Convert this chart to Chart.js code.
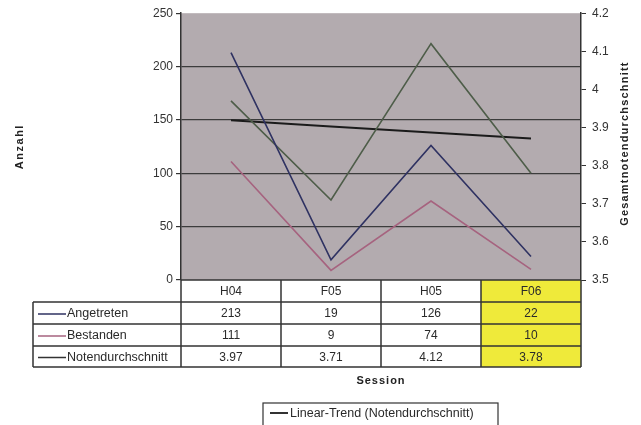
<!DOCTYPE html>
<html>
<head>
<meta charset="utf-8">
<script src="https://cdn.jsdelivr.net/npm/chart.js@4/dist/chart.umd.min.js"></script>
<style>
  html, body { margin: 0; padding: 0; background: #ffffff; }
  #wrap { width: 641px; height: 425px; position: relative; }
  canvas { display: block; }
</style>
</head>
<body>
<div id="wrap"><canvas id="c" width="641" height="425"></canvas></div>
<script>
// ---- data ----
const categories = ['H04', 'F05', 'H05', 'F06'];
const angetreten = [213, 19, 126, 22];
const bestanden = [111, 9, 74, 10];
const notendurchschnitt = [3.97, 3.71, 4.12, 3.78];
const trendNotendurchschnitt = [3.919, 3.903, 3.887, 3.871];
const highlightCategory = 'F06';

const leftTitle = 'Anzahl';
const rightTitle = 'Gesamtnotendurchschnitt';
const xTitle = 'Session';
const seriesLabels = ['Angetreten', 'Bestanden', 'Notendurchschnitt', 'Linear-Trend (Notendurchschnitt)'];

const FONT = '"Liberation Sans", Arial, sans-serif';
const colors = {
  angetreten: '#2f3262',
  bestanden: '#a6637f',
  noten: '#4e5d49',
  notenLegend: '#333333',
  trend: '#1b1b1b',
  plotBg: '#b3abaf',
  grid: '#3c3c3c',
  text: '#2a2a2a',
  highlight: '#efea3a'
};

const bgPlugin = {
  id: 'bg',
  beforeDraw(chart) {
    const {ctx, chartArea: a} = chart;
    ctx.save();
    ctx.fillStyle = colors.plotBg;
    ctx.fillRect(a.left, a.top, a.right - a.left, a.bottom - a.top);
    ctx.restore();
  }
};

const tablePlugin = {
  id: 'table',
  afterDraw(chart) {
    const {ctx, chartArea: a} = chart;
    const xs = chart.scales.x;
    const half = (xs.getPixelForValue(1) - xs.getPixelForValue(0)) / 2;
    const tableLeft = 33;
    const rowsY = [a.bottom, a.bottom + 22, a.bottom + 44, a.bottom + 66, a.bottom + 87];
    const rows = [
      {label: seriesLabels[0], color: colors.angetreten, vals: angetreten.map(String)},
      {label: seriesLabels[1], color: colors.bestanden, vals: bestanden.map(String)},
      {label: seriesLabels[2], color: colors.notenLegend, vals: notendurchschnitt.map(v => v.toFixed(2))}
    ];
    ctx.save();
    // highlight column
    categories.forEach((c, i) => {
      if (c === highlightCategory) {
        const cx = xs.getPixelForValue(i);
        ctx.fillStyle = colors.highlight;
        ctx.fillRect(cx - half, rowsY[0], half * 2, rowsY[4] - rowsY[0]);
      }
    });
    ctx.strokeStyle = '#333333';
    ctx.lineWidth = 1.5;
    // horizontal lines
    ctx.beginPath();
    ctx.moveTo(a.left, rowsY[0]); ctx.lineTo(a.right, rowsY[0]);
    for (let r = 1; r < rowsY.length; r++) {
      ctx.moveTo(tableLeft, rowsY[r]); ctx.lineTo(a.right, rowsY[r]);
    }
    // vertical lines
    ctx.moveTo(tableLeft, rowsY[1]); ctx.lineTo(tableLeft, rowsY[4]);
    for (let i = 0; i <= categories.length; i++) {
      const x = (i < categories.length ? xs.getPixelForValue(i) - half : xs.getPixelForValue(categories.length - 1) + half);
      ctx.moveTo(x, rowsY[0]); ctx.lineTo(x, rowsY[4]);
    }
    ctx.stroke();
    // text
    ctx.fillStyle = colors.text;
    ctx.font = '12px ' + FONT;
    ctx.textAlign = 'center';
    ctx.textBaseline = 'middle';
    categories.forEach((c, i) => {
      ctx.fillText(c, xs.getPixelForValue(i), (rowsY[0] + rowsY[1]) / 2 + 1);
    });
    rows.forEach((row, r) => {
      const cy = (rowsY[r + 1] + rowsY[r + 2]) / 2 + 1;
      row.vals.forEach((v, i) => {
        ctx.fillStyle = colors.text;
        ctx.textAlign = 'center';
        ctx.fillText(v, xs.getPixelForValue(i), cy);
      });
      ctx.strokeStyle = row.color;
      ctx.lineWidth = 1.5;
      ctx.beginPath();
      ctx.moveTo(38, cy); ctx.lineTo(66, cy);
      ctx.stroke();
      ctx.fillStyle = colors.text;
      ctx.textAlign = 'left';
      ctx.font = '12.5px ' + FONT;
      ctx.fillText(row.label, 67, cy);
      ctx.font = '12px ' + FONT;
    });
    // x title
    ctx.font = 'bold 11px ' + FONT;
    ctx.letterSpacing = '1px';
    ctx.textAlign = 'center';
    ctx.fillStyle = '#222';
    ctx.fillText(xTitle, (a.left + a.right) / 2, 381);
    // y titles
    ctx.save();
    ctx.translate(20, (a.top + a.bottom) / 2);
    ctx.rotate(-Math.PI / 2);
    ctx.letterSpacing = '1.5px';
    ctx.fillText(leftTitle, 0, 0);
    ctx.restore();
    ctx.save();
    ctx.translate(625, (a.top + a.bottom) / 2 - 3);
    ctx.rotate(-Math.PI / 2);
    ctx.letterSpacing = '1.2px';
    ctx.fillText(rightTitle, 0, 0);
    ctx.restore();
    ctx.letterSpacing = '0px';
    // legend for trend
    const lx = 263, ly = 403;
    ctx.strokeStyle = '#333';
    ctx.lineWidth = 1.2;
    ctx.strokeRect(lx, ly, 235, 30);
    ctx.strokeStyle = colors.trend;
    ctx.lineWidth = 1.8;
    ctx.beginPath();
    ctx.moveTo(270, 413); ctx.lineTo(288, 413);
    ctx.stroke();
    ctx.fillStyle = colors.text;
    ctx.font = '12.5px ' + FONT;
    ctx.textAlign = 'left';
    ctx.fillText(chart.data.datasets[3].label, 290, 413.5);
    ctx.restore();
  }
};

const chart = new Chart(document.getElementById('c'), {
  type: 'line',
  data: {
    labels: categories,
    datasets: [
      {label: seriesLabels[0], data: angetreten, yAxisID: 'y', borderColor: colors.angetreten, borderWidth: 1.6},
      {label: seriesLabels[1], data: bestanden, yAxisID: 'y', borderColor: colors.bestanden, borderWidth: 1.6},
      {label: seriesLabels[2], data: notendurchschnitt, yAxisID: 'y1', borderColor: colors.noten, borderWidth: 1.6},
      {label: seriesLabels[3], data: trendNotendurchschnitt, yAxisID: 'y1', borderColor: colors.trend, borderWidth: 2}
    ]
  },
  options: {
    responsive: false,
    animation: false,
    layout: {padding: {top: 13, left: 0, right: 0, bottom: 0}},
    elements: {point: {radius: 0, hoverRadius: 0}, line: {tension: 0, fill: false}},
    plugins: {legend: {display: false}, tooltip: {enabled: false}},
    scales: {
      x: {
        type: 'category',
        offset: true,
        grid: {display: false},
        border: {display: false},
        ticks: {display: false},
        afterFit(s) { s.height = 145; }
      },
      y: {
        position: 'left',
        min: 0, max: 250,
        ticks: {stepSize: 50, color: '#333', font: {size: 12, family: FONT}, padding: 3},
        grid: {
          color: c => (c.tick && (c.tick.value === 0 || c.tick.value === 250)) ? 'rgba(0,0,0,0)' : colors.grid,
          tickColor: '#333',
          tickLength: 5,
          lineWidth: 1.2
        },
        border: {display: true, color: '#333', width: 1.5},
        afterFit(s) { s.width = 181; }
      },
      y1: {
        position: 'right',
        min: 3.5, max: 4.2,
        ticks: {
          stepSize: 0.1, color: '#333', font: {size: 12, family: FONT}, padding: 6,
          callback: v => String(Number(v.toFixed(2)))
        },
        grid: {drawOnChartArea: false, tickColor: '#333', tickLength: 5},
        border: {display: true, color: '#333', width: 1.5},
        afterFit(s) { s.width = 60; }
      }
    }
  },
  plugins: [bgPlugin, tablePlugin]
});
</script>
</body>
</html>
